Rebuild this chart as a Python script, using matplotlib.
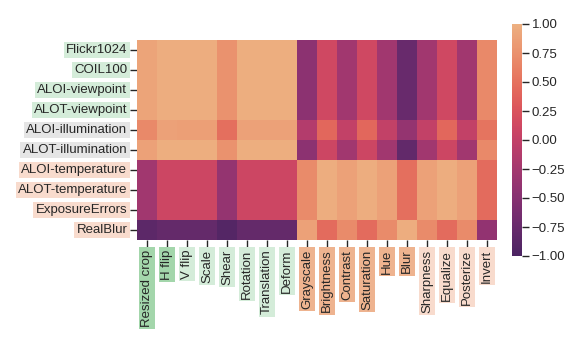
import matplotlib
matplotlib.use("Agg")
import matplotlib.pyplot as plt
import numpy as np
import pandas as pd
import seaborn as sns

# datasets (rows) and augmentations (columns)
rows = ["Flickr1024", "COIL100", "ALOI-viewpoint", "ALOT-viewpoint",
        "ALOI-illumination", "ALOT-illumination",
        "ALOI-temperature", "ALOT-temperature", "ExposureErrors", "RealBlur"]
cols = ["Resized crop", "H flip", "V flip", "Scale", "Shear", "Rotation",
        "Translation", "Deform", "Grayscale", "Brightness", "Contrast",
        "Saturation", "Hue", "Blur", "Sharpness", "Equalize", "Posterize", "Invert"]

# correlation values
flickr     = [0.90, 0.97, 0.97, 0.97, 0.75, 0.98, 0.98, 0.98, -0.45, 0.12, -0.28, 0.12, -0.28, -0.75, -0.28, 0.12, -0.28, 0.68]
coil       = [0.90, 0.97, 0.97, 0.97, 0.75, 0.98, 0.98, 0.98, -0.45, 0.12, -0.28, 0.12, -0.28, -0.75, -0.28, 0.12, -0.28, 0.68]
aloi_view  = [0.90, 0.97, 0.97, 0.97, 0.75, 0.98, 0.98, 0.98, -0.45, 0.12, -0.28, 0.12, -0.28, -0.75, -0.28, 0.12, -0.28, 0.68]
alot_view  = [0.90, 0.97, 0.97, 0.97, 0.75, 0.98, 0.98, 0.98, -0.45, 0.12, -0.28, 0.12, -0.28, -0.75, -0.28, 0.12, -0.28, 0.68]
aloi_illum = [0.68, 0.88, 0.86, 0.86, 0.48, 0.88, 0.88, 0.88, -0.12, 0.42, 0.00, 0.42, 0.00, -0.38, 0.00, 0.42, 0.00, 0.52]
alot_illum = [0.88, 0.98, 0.98, 0.98, 0.75, 0.98, 0.98, 0.98, -0.45, 0.10, -0.28, 0.10, -0.28, -0.80, -0.28, 0.10, -0.28, 0.68]
aloi_temp  = [-0.28, 0.10, 0.10, 0.10, -0.38, 0.10, 0.10, 0.10, 0.70, 0.97, 0.88, 0.97, 0.88, 0.48, 0.88, 0.97, 0.88, 0.45]
alot_temp  = [-0.28, 0.10, 0.10, 0.10, -0.38, 0.10, 0.10, 0.10, 0.70, 0.97, 0.88, 0.97, 0.88, 0.48, 0.88, 0.97, 0.88, 0.45]
exposure   = [-0.28, 0.10, 0.10, 0.10, -0.38, 0.10, 0.10, 0.10, 0.70, 0.97, 0.88, 0.97, 0.88, 0.48, 0.88, 0.97, 0.88, 0.45]
realblur   = [-0.85, -0.78, -0.78, -0.78, -0.92, -0.78, -0.78, -0.78, 0.88, 0.45, 0.70, 0.45, 0.70, 0.97, 0.70, 0.45, 0.70, -0.40]

# label background colours
green = "#d4ecd9"
green_dark = "#a3d6ab"
grey = "#e5e5e5"
peach = "#f8dbcd"
peach_dark = "#eeb38f"
row_colors = [green] * 4 + [grey] * 2 + [peach] * 4
col_colors = [green_dark] * 2 + [green] * 6 + [peach_dark] * 6 + [peach] * 4

df = pd.DataFrame([flickr, coil, aloi_view, alot_view, aloi_illum, alot_illum,
                   aloi_temp, alot_temp, exposure, realblur],
                  index=rows, columns=cols)

sns.set_style("ticks")
plt.rcParams["font.family"] = ["Liberation Sans", "DejaVu Sans"]
plt.rcParams["font.size"] = 9.5

W, H = 581, 349
fig = plt.figure(figsize=(W / 100, H / 100), dpi=100)
ax = fig.add_axes([137 / W, (H - 240) / H, 360 / W, 200 / H])
cax = fig.add_axes([512 / W, (H - 256) / H, 10 / W, 232 / H])

sns.heatmap(df, ax=ax, cbar_ax=cax, cmap="flare_r", vmin=-1, vmax=1)

ax.tick_params(axis="both", length=5, width=1, color="#262626", labelsize=9.5, pad=2)
ax.set_xticklabels(cols, rotation=90)
ax.set_yticklabels(rows, rotation=0)
for lab, c in zip(ax.get_yticklabels(), row_colors):
    lab.set_bbox(dict(facecolor=c, edgecolor="none", pad=1.6))
for lab, c in zip(ax.get_xticklabels(), col_colors):
    lab.set_bbox(dict(facecolor=c, edgecolor="none", pad=1.6))

cax.set_yticks(np.arange(-1, 1.01, 0.25))
cax.set_yticklabels(["\u22121.00", "\u22120.75", "\u22120.50", "\u22120.25", "0.00",
                     "0.25", "0.50", "0.75", "1.00"])
cax.tick_params(length=5, width=1, color="#262626", labelsize=9.5, pad=2)

fig.savefig("out.png", dpi=100)
